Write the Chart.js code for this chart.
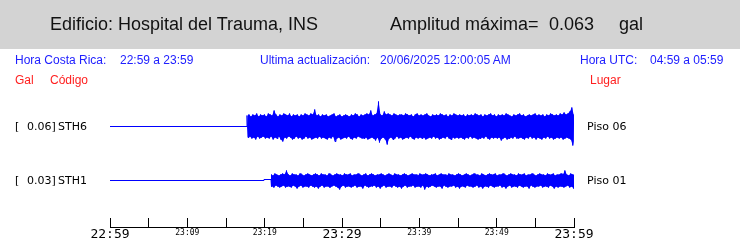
<!DOCTYPE html>
<html><head><meta charset="utf-8">
<script src="https://cdn.jsdelivr.net/npm/chart.js@4"></script>
<style>
html,body{margin:0;padding:0;background:#fff;width:740px;height:241px;overflow:hidden}
#band{position:absolute;left:0;top:0;width:740px;height:49px;background:#d3d3d3}
canvas{position:absolute;left:0;top:0}
.t{position:absolute;white-space:pre;line-height:1;margin:0}
.h{font-family:"Liberation Sans",Arial,sans-serif;font-size:18px;color:#111;top:14.8px}
.b{font-family:"Liberation Sans",Arial,sans-serif;font-size:12px;color:#2020ff;top:53.85px}
.r{font-family:"Liberation Sans",Arial,sans-serif;font-size:12px;color:#ff2020;top:73.85px}
.l{font-family:"DejaVu Sans",sans-serif;font-size:11px;color:#000}
</style></head>
<body>
<div id="band"></div>
<canvas id="c" width="740" height="241"></canvas>
<div class="t h" style="left:50px">Edificio: Hospital del Trauma, INS</div>
<div class="t h" style="left:390px">Amplitud máxima=</div>
<div class="t h" style="left:549px">0.063</div>
<div class="t h" style="left:619px">gal</div>
<div class="t b" style="left:15px">Hora Costa Rica:</div>
<div class="t b" style="left:120px">22:59 a 23:59</div>
<div class="t b" style="left:260px">Ultima actualización:</div>
<div class="t b" style="left:380px">20/06/2025 12:00:05 AM</div>
<div class="t b" style="left:580px">Hora UTC:</div>
<div class="t b" style="left:650px">04:59 a 05:59</div>
<div class="t r" style="left:15px">Gal</div>
<div class="t r" style="left:50px">Código</div>
<div class="t r" style="left:590px">Lugar</div>
<div class="t l" style="left:15px;top:120.7px">[</div>
<div class="t l" style="left:27px;top:120.7px">0.06]</div>
<div class="t l" style="left:58px;top:120.7px">STH6</div>
<div class="t l" style="left:587px;top:120.7px">Piso 06</div>
<div class="t l" style="left:15px;top:174.7px">[</div>
<div class="t l" style="left:27px;top:174.7px">0.03]</div>
<div class="t l" style="left:58px;top:174.7px">STH1</div>
<div class="t l" style="left:587px;top:174.7px">Piso 01</div>
<script>
// time axis (minutes after 22:59)
const tickMinutes = [0,5,10,15,20,25,30,35,40,45,50,55,60];
const tickLabels = ['22:59','','23:09','','23:19','','23:29','','23:39','','23:49','','23:59'];
const majorTicks = ['22:59','23:29','23:59'];

// STH6 (Piso 06)
const sth6LeadTimes = [0, 17.72];
const sth6LeadValues = [0, 0];
const sth6Start = 17.72;
const sth6Step = 0.25;
const sth6Upper = [
11,12,10,12,11,13,10,12,11,12,
10,13,12,11,16,12,10,12,11,13,
12,11,13,10,12,11,12,10,12,11,
13,12,11,13,12,17,11,12,10,12,
11,12,10,11,12,13,10,11,12,10,
11,12,11,10,12,11,13,12,10,12,
11,12,13,12,16,11,12,13,25,12,
11,15,12,13,12,11,13,12,11,12,
12,11,13,12,11,12,10,12,13,11,
12,11,12,13,11,10,12,11,12,11,
13,12,11,12,10,12,11,13,12,11,
12,11,12,10,12,11,12,11,13,12,
11,12,10,12,11,12,13,11,12,10,
12,11,12,11,13,12,11,10,12,11,
12,13,11,12,10,11,12,11,12,13,
11,12,11,12,10,12,11,13,12,11,
12,11,13,12,14,12,13,15,19,12];
const sth6Lower = [
-11,-10,-12,-11,-13,-10,-12,-11,-10,-12,
-11,-12,-10,-13,-11,-12,-10,-13,-15,-11,
-12,-10,-11,-13,-12,-10,-12,-11,-13,-12,
-10,-12,-11,-13,-12,-11,-12,-10,-12,-11,
-12,-13,-11,-12,-10,-15,-12,-11,-13,-12,
-11,-12,-10,-12,-13,-11,-12,-10,-11,-12,
-12,-11,-13,-12,-11,-12,-14,-11,-16,-12,
-11,-13,-18,-12,-11,-13,-12,-10,-12,-11,
-13,-12,-11,-12,-10,-12,-13,-11,-12,-11,
-12,-11,-13,-12,-11,-12,-10,-12,-11,-13,
-12,-11,-12,-10,-12,-13,-11,-12,-11,-12,
-11,-12,-13,-11,-12,-10,-12,-11,-12,-13,
-12,-11,-12,-10,-12,-13,-11,-12,-11,-12,
-11,-14,-12,-11,-13,-12,-11,-12,-10,-12,
-12,-11,-12,-13,-11,-12,-10,-12,-11,-13,
-11,-12,-13,-11,-12,-10,-12,-11,-13,-12,
-11,-12,-11,-13,-12,-11,-12,-13,-19,-12];

// STH1 (Piso 01)
const sth1LeadTimes = [0, 19.91, 19.91, 20.82];
const sth1LeadValues = [0, 0, 1, 1];
const sth1Start = 20.82;
const sth1Step = 0.25;
const sth1Upper = [
6,5,7,6,5,6,7,6,10,6,
5,7,6,6,5,7,6,5,6,7,
6,5,6,7,6,5,7,6,6,5,
7,6,5,6,7,6,6,5,7,6,
6,7,5,6,6,7,6,5,6,7,
5,6,7,6,5,6,6,7,6,5,
6,7,6,5,7,6,6,5,6,7,
6,5,6,7,6,6,5,7,6,6,
7,6,5,6,6,7,5,6,7,6,
6,5,7,6,6,5,6,7,6,5,
6,7,6,5,6,7,6,6,5,7,
6,5,6,7,6,6,7,5,6,6,
7,6,5,6,7,6,6,5,7,6,
6,7,5,6,6,7,6,5,6,7,
6,6,5,7,6,6,7,5,6,6,
7,6,10,6,5,7,6,6];
const sth1Lower = [
-6,-7,-5,-6,-7,-6,-5,-7,-6,-6,
-7,-5,-6,-8,-6,-5,-7,-6,-6,-7,
-5,-6,-7,-6,-8,-6,-5,-7,-6,-6,
-7,-6,-5,-6,-7,-9,-6,-5,-7,-6,
-6,-7,-6,-5,-7,-6,-6,-8,-5,-6,
-7,-6,-6,-5,-7,-6,-8,-6,-5,-7,
-6,-6,-7,-5,-6,-7,-6,-8,-6,-5,
-7,-6,-6,-5,-7,-6,-6,-7,-5,-9,
-6,-7,-6,-5,-6,-7,-6,-6,-8,-5,
-6,-7,-6,-6,-5,-7,-6,-8,-6,-6,
-7,-5,-6,-6,-7,-6,-5,-7,-6,-8,
-6,-6,-7,-5,-6,-7,-6,-6,-5,-7,
-6,-8,-6,-5,-7,-6,-6,-7,-5,-6,
-7,-6,-6,-8,-5,-6,-7,-6,-6,-5,
-7,-6,-6,-7,-5,-6,-8,-6,-7,-6,
-6,-7,-6,-5,-7,-6,-8,-6];

function buildTrace(leadT, leadV, start, step, up, lo, base) {
  const pts = [];
  for (let i = 0; i < leadT.length; i++) pts.push({x: leadT[i], y: base + leadV[i]});
  const n = Math.min(up.length, lo.length);
  for (let i = 0; i < n; i++) {
    const t = start + i * step;
    pts.push({x: t, y: base + up[i]});
    pts.push({x: t + step / 2, y: base + lo[i]});
  }
  return pts;
}
function buildEnv(start, step, vals, base, shift) {
  return vals.map((v, i) => ({x: start + i * step + shift, y: base + v}));
}

const upTicks = {
  id: 'upTicks',
  afterDraw(chart) {
    const sx = chart.scales.x, ctx = chart.ctx;
    const yb = chart.chartArea.bottom;
    ctx.save();
    ctx.strokeStyle = '#000';
    ctx.lineWidth = 1;
    ctx.beginPath();
    tickMinutes.forEach(m => {
      const px = Math.floor(sx.getPixelForValue(m)) + 0.5;
      ctx.moveTo(px, yb - 9);
      ctx.lineTo(px, yb);
    });
    ctx.stroke();
    ctx.restore();
  }
};

const BLUE = '#0000ff';
const envStyle = {borderWidth: 0, borderColor: 'rgba(0,0,0,0)', pointRadius: 0, tension: 0};
const lineStyle = {borderColor: BLUE, borderWidth: 1, pointRadius: 0, tension: 0, fill: false};

new Chart(document.getElementById('c'), {
  type: 'line',
  data: {
    datasets: [
      Object.assign({data: buildEnv(sth6Start, sth6Step, sth6Upper, -36.5, 0), fill: false}, envStyle),
      Object.assign({data: buildEnv(sth6Start, sth6Step, sth6Lower, -36.5, sth6Step / 2), fill: '-1', backgroundColor: BLUE}, envStyle),
      Object.assign({data: buildTrace(sth6LeadTimes, sth6LeadValues, sth6Start, sth6Step, sth6Upper, sth6Lower, -36.5)}, lineStyle),
      Object.assign({data: buildEnv(sth1Start, sth1Step, sth1Upper, -90.5, 0), fill: false}, envStyle),
      Object.assign({data: buildEnv(sth1Start, sth1Step, sth1Lower, -90.5, sth1Step / 2), fill: '-1', backgroundColor: BLUE}, envStyle),
      Object.assign({data: buildTrace(sth1LeadTimes, sth1LeadValues, sth1Start, sth1Step, sth1Upper, sth1Lower, -90.5)}, lineStyle)
    ]
  },
  options: {
    responsive: false, animation: false, devicePixelRatio: 1,
    parsing: false,
    layout: {padding: {left: 110, right: 166, top: 90, bottom: 0}},
    plugins: {legend: {display: false}, tooltip: {enabled: false}},
    scales: {
      x: {
        type: 'linear', min: 0, max: 60,
        afterFit(s) { s.height = 14; },
        afterBuildTicks(s) { s.ticks = tickMinutes.map(v => ({value: v})); },
        grid: {display: true, drawOnChartArea: false, drawTicks: false},
        border: {display: true, color: '#000', width: 1},
        ticks: {
          autoSkip: false, maxRotation: 0, minRotation: 0, padding: 0,
          color: '#000',
          callback: (v, i) => tickLabels[i],
          font: ctx => {
            const lab = tickLabels[ctx.index] || '';
            return majorTicks.includes(lab)
              ? {family: 'DejaVu Sans Mono', size: 13, lineHeight: 1.2}
              : {family: 'DejaVu Sans Mono', size: 8, lineHeight: 1.5};
          }
        }
      },
      y: {type: 'linear', display: false, min: -137, max: 0}
    }
  },
  plugins: [upTicks]
});
</script>
</body></html>
